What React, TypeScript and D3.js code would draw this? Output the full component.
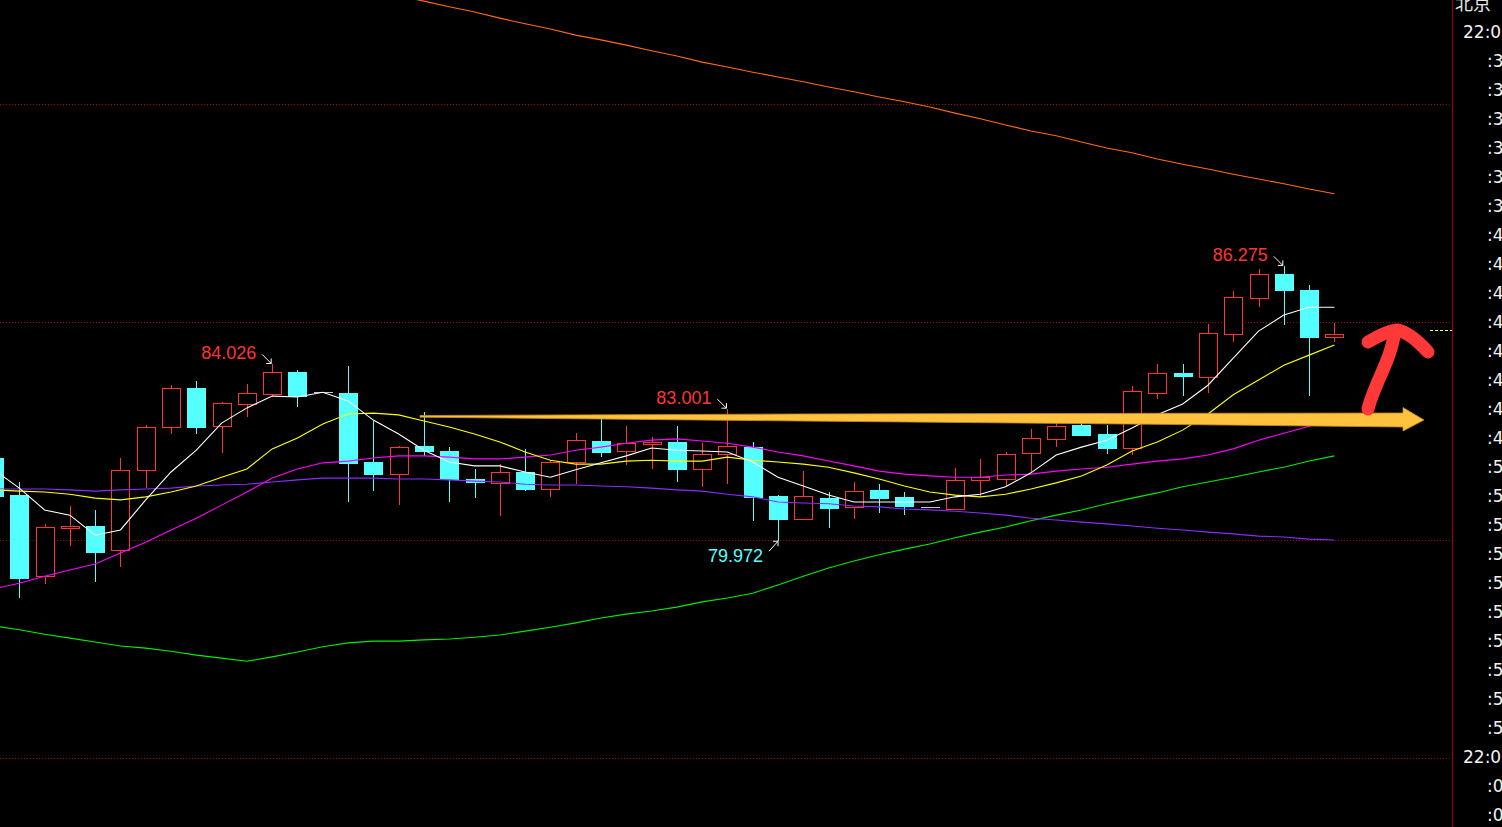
import React from 'react';
import * as d3 from 'd3';

const W = 1502;
const H = 827;

// Candle OHLC (index 0 is the partially visible candle on the left edge)
const opens = [81.881, 81.032, 79.174, 80.275, 80.321, 79.771, 81.605, 82.592, 83.486, 82.615, 83.119, 83.349, 83.853, 83.394, 83.372, 81.789, 81.514, 82.156, 82.041, 81.399, 81.307, 81.560, 81.170, 81.789, 82.271, 82.041, 82.225, 82.248, 81.628, 81.972, 82.133, 81.009, 80.482, 80.963, 80.757, 81.147, 80.986, 80.757, 80.711, 81.376, 81.399, 81.995, 82.316, 82.638, 82.431, 82.110, 83.372, 83.830, 83.739, 84.725, 85.550, 86.101, 85.734, 84.656];
const highs = [82.018, 81.330, 80.367, 80.780, 80.688, 81.881, 82.638, 83.555, 83.647, 83.165, 83.578, 84.026, 83.899, 83.394, 83.991, 82.729, 82.156, 82.936, 82.133, 81.628, 81.743, 82.087, 81.835, 82.454, 82.798, 82.615, 82.362, 82.615, 82.225, 83.001, 82.248, 81.032, 81.583, 81.101, 81.330, 81.284, 81.101, 80.757, 81.651, 81.858, 82.018, 82.546, 82.706, 82.706, 82.638, 83.532, 84.037, 84.037, 84.954, 85.711, 86.216, 86.275, 85.849, 84.977];
const lows = [80.803, 78.670, 78.991, 79.862, 79.037, 79.381, 81.193, 82.431, 82.431, 81.995, 82.821, 83.303, 83.050, 83.394, 80.872, 81.124, 80.803, 81.927, 80.872, 80.963, 80.550, 81.124, 80.986, 81.284, 81.904, 81.720, 81.628, 81.330, 81.216, 81.284, 80.436, 79.972, 80.482, 80.275, 80.482, 80.619, 80.573, 80.757, 80.711, 81.009, 81.239, 81.560, 82.133, 82.408, 81.972, 81.950, 83.234, 83.303, 83.372, 84.541, 85.344, 84.931, 83.303, 84.541];
const closes = [81.009, 79.128, 80.298, 80.321, 79.725, 81.605, 82.592, 83.486, 82.592, 83.142, 83.372, 83.853, 83.303, 83.394, 81.766, 81.514, 82.133, 82.041, 81.399, 81.330, 81.560, 81.170, 81.789, 82.294, 82.018, 82.225, 82.248, 81.628, 81.972, 82.156, 80.986, 80.482, 81.009, 80.734, 81.124, 80.963, 80.780, 80.757, 81.376, 81.445, 81.972, 82.339, 82.615, 82.408, 82.110, 83.417, 83.830, 83.761, 84.748, 85.573, 86.101, 85.734, 84.656, 84.725];

// Moving averages
const maWhite = [81.61, 81.19, 80.69, 80.57, 80.11, 80.23, 80.92, 81.56, 82.06, 82.68, 83.03, 83.30, 83.28, 83.39, 83.19, 82.75, 82.43, 82.06, 81.79, 81.70, 81.70, 81.56, 81.44, 81.61, 81.77, 81.93, 82.11, 82.06, 82.04, 82.02, 81.79, 81.44, 81.24, 81.03, 80.87, 80.87, 80.87, 80.87, 80.99, 81.05, 81.22, 81.54, 81.95, 82.13, 82.29, 82.57, 82.87, 83.12, 83.55, 84.17, 84.79, 85.16, 85.34, 85.34];
const maYellow = [81.15, 81.12, 81.10, 81.05, 80.96, 80.92, 80.99, 81.10, 81.24, 81.44, 81.63, 82.09, 82.34, 82.66, 82.89, 82.91, 82.87, 82.73, 82.59, 82.43, 82.25, 82.02, 81.83, 81.74, 81.74, 81.81, 81.83, 81.81, 81.81, 81.90, 81.83, 81.79, 81.74, 81.67, 81.54, 81.40, 81.24, 81.10, 81.03, 80.99, 81.05, 81.17, 81.31, 81.47, 81.72, 82.04, 82.25, 82.52, 82.89, 83.33, 83.67, 84.01, 84.24, 84.47];
const maMagenta = [78.88, 79.01, 79.17, 79.31, 79.45, 79.70, 79.95, 80.23, 80.50, 80.80, 81.10, 81.42, 81.63, 81.77, 81.81, 81.88, 81.93, 81.93, 81.90, 81.86, 81.86, 81.90, 81.95, 82.06, 82.13, 82.22, 82.29, 82.32, 82.27, 82.22, 82.13, 82.02, 81.93, 81.81, 81.70, 81.58, 81.51, 81.47, 81.44, 81.44, 81.49, 81.51, 81.58, 81.63, 81.67, 81.74, 81.81, 81.86, 81.95, 82.09, 82.29, 82.45, 82.61, 82.78];
const maPurple = [81.17, 81.17, 81.17, 81.15, 81.12, 81.15, 81.17, 81.19, 81.24, 81.26, 81.28, 81.33, 81.38, 81.42, 81.42, 81.42, 81.40, 81.40, 81.38, 81.35, 81.33, 81.28, 81.26, 81.26, 81.24, 81.22, 81.19, 81.15, 81.12, 81.05, 80.99, 80.87, 80.85, 80.83, 80.78, 80.76, 80.71, 80.69, 80.66, 80.62, 80.57, 80.50, 80.46, 80.41, 80.37, 80.32, 80.27, 80.23, 80.18, 80.14, 80.09, 80.07, 80.02, 80.00];
const maGreen = [78.03, 77.94, 77.84, 77.75, 77.66, 77.57, 77.52, 77.45, 77.36, 77.29, 77.22, 77.32, 77.43, 77.55, 77.64, 77.68, 77.68, 77.71, 77.73, 77.77, 77.82, 77.91, 78.00, 78.10, 78.21, 78.30, 78.37, 78.46, 78.58, 78.67, 78.78, 78.97, 79.17, 79.36, 79.52, 79.66, 79.79, 79.91, 80.05, 80.18, 80.30, 80.44, 80.57, 80.69, 80.83, 80.96, 81.08, 81.22, 81.33, 81.44, 81.56, 81.67, 81.81, 81.93];
const maOrange: (number | null)[] = [null, null, null, null, null, null, null, null, null, null, null, null, null, null, null, 92.62, 92.48, 92.36, 92.23, 92.11, 91.97, 91.84, 91.72, 91.58, 91.47, 91.35, 91.22, 91.10, 90.96, 90.85, 90.73, 90.62, 90.51, 90.39, 90.28, 90.16, 90.05, 89.93, 89.79, 89.66, 89.52, 89.38, 89.27, 89.13, 88.99, 88.88, 88.74, 88.62, 88.51, 88.39, 88.28, 88.17, 88.05, 87.94];

const gridPrices = [90, 85, 80, 75];
const currentPrice = 84.81;

const timeLabels = ['22:0', ':3', ':3', ':3', ':3', ':3', ':3', ':4', ':4', ':4', ':4', ':4', ':4', ':4', ':4', ':5', ':5', ':5', ':5', ':5', ':5', ':5', ':5', ':5', ':5', '22:0', ':0', ':0'];

const markIndex = [11, 29, 51, 31];
const markValue = ['84.026', '83.001', '86.275', '79.972'];
const markKind = ['high', 'high', 'high', 'low'];

const RED = '#ff3434';
const CYAN = '#54ffff';

export default function App() {
  const x = d3.scaleLinear().domain([0, 53]).range([-6, 1334.4]);
  const y = d3.scaleLinear().domain([75, 90]).range([758, 104]);
  const idx = d3.range(opens.length);

  const mkLine = (arr: (number | null)[]) =>
    d3
      .line<number | null>()
      .defined((d) => d !== null)
      .x((_, i) => x(i))
      .y((d) => y(d as number))(arr) || '';

  const maSeries: { data: (number | null)[]; color: string }[] = [
    { data: maGreen, color: '#00ee00' },
    { data: maPurple, color: '#8a2cff' },
    { data: maMagenta, color: '#ff00ff' },
    { data: maYellow, color: '#ffff00' },
    { data: maWhite, color: '#ffffff' },
    { data: maOrange, color: '#ff6a14' },
  ];

  const snap = (v: number) => Math.round(v) + 0.5;

  return (
    <svg
      width={W}
      height={H}
      style={{ position: 'absolute', left: 0, top: 0, display: 'block', background: '#000' }}
    >
      <rect x={0} y={0} width={W} height={H} fill="#000" />

      {/* dotted price grid */}
      {gridPrices.map((p) => (
        <line
          key={p}
          x1={0}
          x2={1451}
          y1={snap(y(p))}
          y2={snap(y(p))}
          stroke="#b00000"
          strokeWidth={1}
          strokeDasharray="1 2"
          shapeRendering="crispEdges"
        />
      ))}

      {/* current price marker */}
      <line
        x1={1430}
        x2={1452}
        y1={snap(y(currentPrice))}
        y2={snap(y(currentPrice))}
        stroke="#ffff66"
        strokeWidth={1}
        strokeDasharray="3 2"
        shapeRendering="crispEdges"
      />

      {/* candles */}
      <g shapeRendering="crispEdges">
        {idx.map((i) => {
          const cx = Math.round(x(i));
          const o = opens[i];
          const c = closes[i];
          const h = highs[i];
          const l = lows[i];
          const yo = Math.round(y(o));
          const yc = Math.round(y(c));
          const yh = Math.round(y(h));
          const yl = Math.round(y(l));
          if (Math.abs(c - o) < 1e-6) {
            return (
              <g key={i}>
                {yh !== yl && (
                  <line x1={cx + 0.5} x2={cx + 0.5} y1={yh} y2={yl} stroke="#c8c8c8" />
                )}
                <line x1={cx - 9} x2={cx + 10} y1={yo + 0.5} y2={yo + 0.5} stroke="#c8c8c8" strokeWidth={1.5} />
              </g>
            );
          }
          if (c > o) {
            const top = yc;
            const bot = Math.max(yo, yc + 2);
            return (
              <g key={i}>
                <line x1={cx + 0.5} x2={cx + 0.5} y1={yh} y2={top} stroke={RED} />
                <line x1={cx + 0.5} x2={cx + 0.5} y1={bot} y2={yl} stroke={RED} />
                <rect x={cx - 9 + 0.5} y={top + 0.5} width={18} height={bot - top} fill="#000" stroke={RED} strokeWidth={1} />
              </g>
            );
          }
          const top = yo;
          const bot = Math.max(yc, yo + 2);
          return (
            <g key={i}>
              <line x1={cx + 0.5} x2={cx + 0.5} y1={yh} y2={yl} stroke={CYAN} />
              <rect x={cx - 9} y={top} width={19} height={bot - top + 1} fill={CYAN} />
            </g>
          );
        })}
      </g>

      {/* moving averages */}
      {maSeries.map((s, k) => (
        <path key={k} d={mkLine(s.data)} fill="none" stroke={s.color} strokeWidth={1.1} />
      ))}

      {/* high / low labels */}
      {markIndex.map((i, k) => {
        const isHigh = markKind[k] === 'high';
        const tx = x(i) - (isHigh ? 1 : 0);
        const ty = isHigh ? y(highs[i]) - 1 : y(lows[i]);
        const sx = tx - 9;
        const sy = isHigh ? ty - 9 : ty + 10;
        const color = isHigh ? RED : CYAN;
        const head = isHigh
          ? `M${tx - 5},${ty} L${tx},${ty} L${tx},${ty - 5}`
          : `M${tx - 5},${ty} L${tx},${ty} L${tx},${ty + 5}`;
        return (
          <g key={k}>
            <line x1={sx} y1={sy} x2={tx} y2={ty} stroke="#ffffff" strokeWidth={1} />
            <path d={head} fill="none" stroke="#ffffff" strokeWidth={1} />
            <text
              x={tx - 15}
              y={isHigh ? ty - 4 : ty + 21}
              textAnchor="end"
              fill={color}
              fontFamily="'Liberation Sans', Arial, sans-serif"
              fontSize={18}
            >
              {markValue[k]}
            </text>
          </g>
        );
      })}

      {/* hand drawn orange arrow */}
      <path
        d="M420,415.5 L800,414 L1180,413.3 L1403,413 L1403,407.5 L1424,420 L1403,431 L1403,427 L1180,424.5 L800,421 L420,417.2 Z"
        fill="#ffc23e"
        stroke="#c98a1e"
        strokeWidth={0.8}
      />

      {/* hand drawn red arrow */}
      <g fill="none" stroke="#ff3838" strokeWidth={13} strokeLinecap="round" strokeLinejoin="round">
        <path d="M1368,409 C1372,392 1383,372 1389,355 C1392,346 1394,338 1395,331" />
        <path d="M1368,342 C1378,336 1388,331 1397,330 C1408,332 1419,342 1428,352" />
      </g>

      {/* right panel */}
      <line x1={1452.5} x2={1452.5} y1={0} y2={H} stroke="#a00000" strokeWidth={1} />
      <text x={1455} y={10} fill="#e8e8e8" fontFamily="'Noto Sans CJK SC', sans-serif" fontSize={18}>
        北京
      </text>
      {timeLabels.map((t, k) => (
        <text
          key={k}
          x={t.startsWith('22') ? 1463 : 1487}
          y={37.5 + k * 29}
          fill="#f2f2f2"
          fontFamily="'DejaVu Sans', Verdana, sans-serif"
          fontSize={17}
        >
          {t}
        </text>
      ))}
    </svg>
  );
}
